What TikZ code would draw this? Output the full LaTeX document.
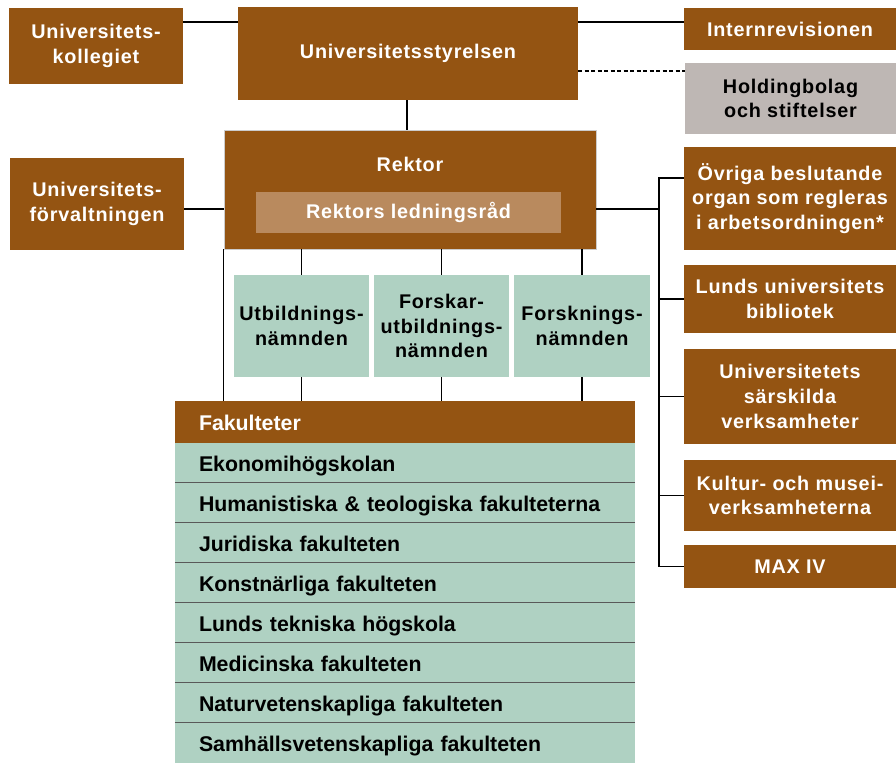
\documentclass[tikz,border=0pt]{standalone}
\usepackage{fontspec}
\setmainfont{Liberation Sans}
\newfontfamily\orgfont{Liberation Sans}[LetterSpace=4]
\usepackage{tikz}
\usetikzlibrary{positioning}

\definecolor{lubrown}{RGB}{148,84,18}
\definecolor{lutan}{RGB}{185,138,94}
\definecolor{lugreen}{RGB}{175,209,194}
\definecolor{lugrey}{RGB}{190,183,180}

\begin{document}
\begin{tikzpicture}[x=1pt,y=-1pt,
  unit/.style={fill=lubrown,text=white,inner sep=0pt,align=center,
    font=\orgfont\bfseries\fontsize{19.8}{24.7}\selectfont},
  grey unit/.style={unit,fill=lugrey,text=black},
  board/.style={unit,minimum width=135pt,minimum height=102pt,fill=lugreen,text=black},
  facrow/.style={fill=lugreen,inner ysep=0pt,inner xsep=24pt,text width=412pt,
    text height=18pt,text depth=1.5pt,
    minimum height=40pt,align=left,font=\bfseries\fontsize{21.3}{24}\selectfont},
  link/.style={line width=1.5pt},
  sep/.style={draw=black!65,line width=1.2pt}]
\useasboundingbox (0,0) rectangle (896,763);

% top level
\node[unit,minimum width=174pt,minimum height=76pt] (kollegiet) at (96,46) {Universitets-\\kollegiet};
\node[unit,minimum width=340pt,minimum height=93pt] (styrelsen) at (408,53.5) {Universitetsstyrelsen};
\node[unit,minimum width=212pt,minimum height=42pt] (internrev) at (790,29) {Internrevisionen};
\node[grey unit,minimum width=211pt,minimum height=71pt] (holding) at (790.5,98.5) {Holdingbolag\\och stiftelser};

% rektor
\node[unit,minimum width=372pt,minimum height=119pt,draw=black!20,line width=0.8pt] (rektor) at (410,189.5) {};
\node[unit,fill=none] (rektortxt) at (410,164) {Rektor};
\node[unit,fill=lutan,minimum width=305pt,minimum height=41pt] (lr) at (408.5,212.5) {Rektors ledningsråd};
\node[unit,minimum width=174pt,minimum height=92pt] (forv) at (97,204) {Universitets-\\förvaltningen};

% right column
\node[unit,minimum width=212pt,minimum height=103pt] (ovriga) at (790,198.5) {Övriga beslutande\\organ som regleras\\i arbetsordningen*};
\node[unit,minimum width=212pt,minimum height=68pt] (bibliotek) at (790,299) {Lunds universitets\\bibliotek};
\node[unit,minimum width=212pt,minimum height=95pt] (sarskilda) at (790,396.5) {Universitetets\\särskilda\\verksamheter};
\node[unit,minimum width=212pt,minimum height=71pt] (kultur) at (790,495.5) {Kultur- och musei-\\verksamheterna};
\node[unit,minimum width=212pt,minimum height=43pt] (max) at (790,566.5) {MAX IV};

% committees
\node[board] (utb) at (301.5,326) {Utbildnings-\\nämnden};
\node[board] (forskutb) at (441.5,326) {Forskar-\\utbildnings-\\nämnden};
\node[board,minimum width=136pt] (forsk) at (582,326) {Forsknings-\\nämnden};

% faculties
\node[facrow,fill=lubrown,text=white,minimum height=42pt] (fakhead) at (405,422) {Fakulteter};
\foreach \fac [count=\i] in {Ekonomihögskolan,
    Humanistiska \& teologiska fakulteterna,
    Juridiska fakulteten,
    Konstnärliga fakulteten,
    Lunds tekniska högskola,
    Medicinska fakulteten,
    Naturvetenskapliga fakulteten,
    Samhällsvetenskapliga fakulteten}
  \node[facrow] (row\i) at (405,423+40*\i) {\fac};
\foreach \i in {2,...,8}
  \draw[sep] (row\i.north west) -- (row\i.north east);

% connectors
\coordinate (top) at (0,22);
\coordinate (dash) at (0,71);
\coordinate (midline) at (0,209);
\coordinate (bus) at (659,178);

\draw[link] (kollegiet.east |- top) -- (styrelsen.west |- top);
\draw[link] (styrelsen.east |- top) -- (internrev.west |- top);
\draw[link,dashed,dash pattern=on 4pt off 2.5pt] (styrelsen.east |- dash) -- (holding.west |- dash);
\draw[link] (styrelsen.south -| 407,0) -- (rektor.north -| 407,0);
\draw[link] (forv.east |- midline) -- (rektor.west |- midline);
\draw[link] (rektor.east |- midline) -- (bus |- midline);
\draw[link] (ovriga.west |- bus) -- (bus) -- (bus |- max) -- (max.west);
\foreach \n in {bibliotek,sarskilda,kultur}
  \draw[link] (bus |- \n) -- (\n.west);

\foreach \n in {utb,forskutb,forsk} {
  \draw[link] (rektor.south -| \n) -- (\n.north);
  \draw[link] (\n.south) -- (\n.south |- fakhead.north);
}
\draw[link] (rektor.south west) -- (rektor.south west |- fakhead.north);

\end{tikzpicture}
\end{document}
